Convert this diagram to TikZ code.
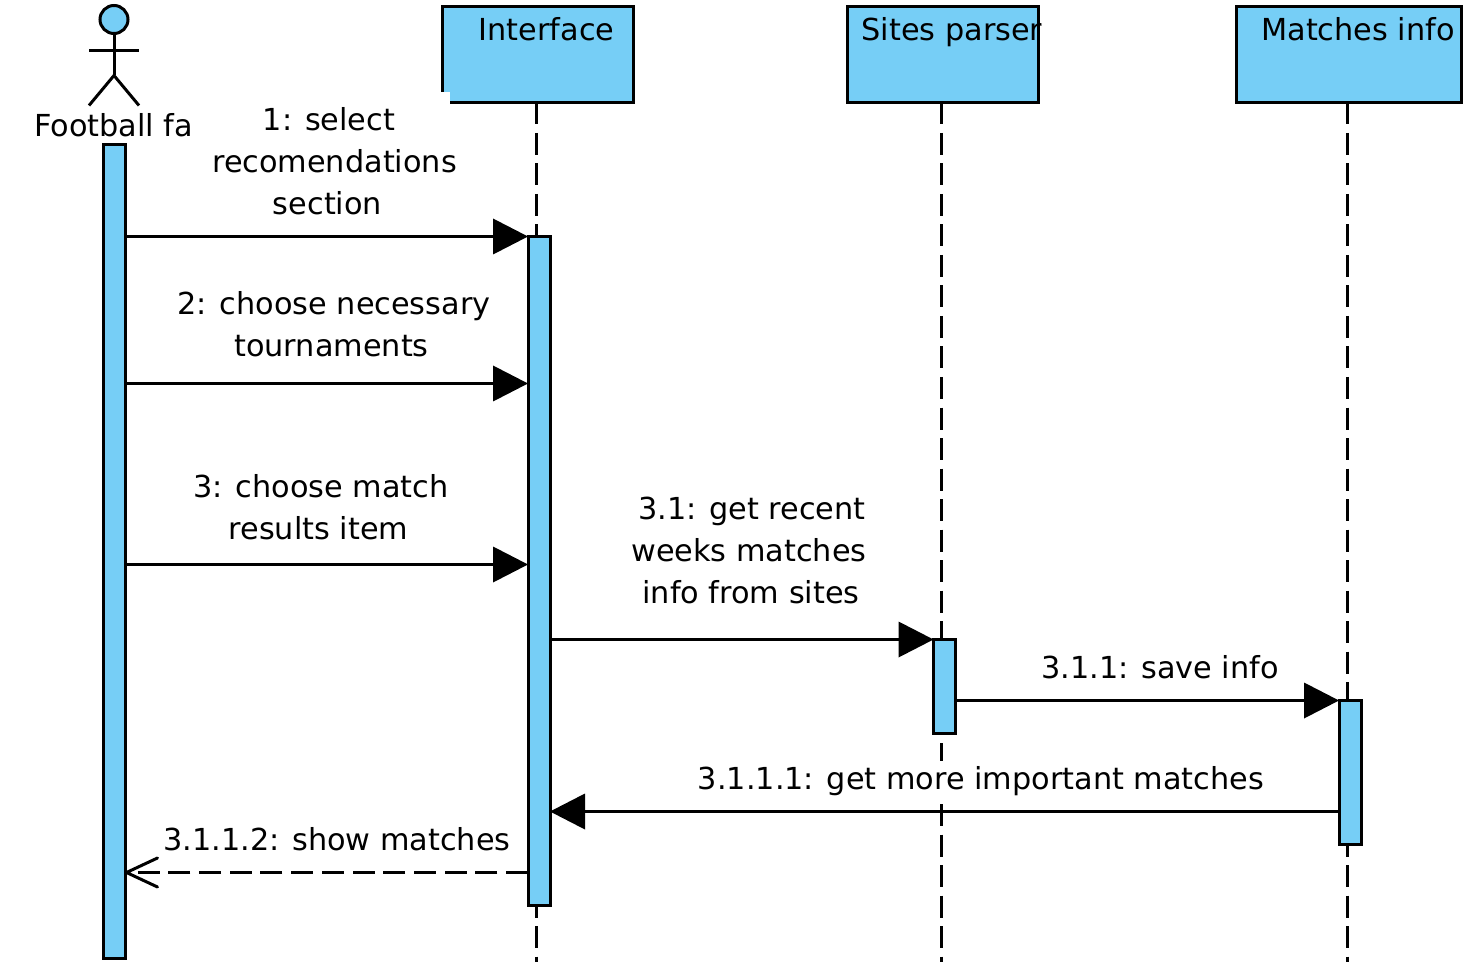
\documentclass[tikz,border=0pt]{standalone}
\usepackage{fontspec}
\setmainfont{DejaVu Sans}
\usetikzlibrary{arrows.meta}
\definecolor{umlblue}{HTML}{76CEF6}
\tikzset{
  umlbox/.style={draw=black,fill=umlblue,line width=3pt,inner sep=0pt,outer sep=0pt,rectangle},
  headbox/.style={umlbox,minimum height=96pt},
  bar/.style={umlbox,minimum width=22pt},
  txt/.style={inner sep=0pt,outer sep=0pt,anchor=base,text=black},
  lifeline/.style={draw=black,line width=3pt,dash pattern=on 22pt off 8.5pt},
  msg/.style={draw=black,line width=3pt,-{Triangle[length=35pt,width=36pt,line width=0pt]}},
  reply/.style={draw=black,line width=3pt,dash pattern=on 22pt off 8.7pt,-{Straight Barb[length=31pt,width=29pt,line width=3pt,round=false]}},
  limb/.style={draw=black,line width=3pt}
}
\begin{document}
\begin{tikzpicture}[x=1pt,y=-1pt,font=\fontsize{30.3}{37}\selectfont]
\useasboundingbox[fill=white] (0,0) rectangle (1475,973);
\begin{scope}[xshift=-0.5pt,yshift=-0.5pt]
% lifeline ends and message heights
\coordinate (ifend) at (536.5,961);
\coordinate (spend) at (941.5,961);
\coordinate (miend) at (1347.5,961);
\coordinate (m1) at (0,236);
\coordinate (m2) at (0,383);
\coordinate (m3) at (0,564);
\coordinate (m4) at (0,639);
\coordinate (m5) at (0,700);
\coordinate (m6) at (0,811);
\coordinate (m7) at (0,872);
% heads
\node[headbox,minimum width=191pt] (if) at (538,54) {};
\node[headbox,minimum width=191pt] (sp) at (943.5,54) {};
\node[headbox,minimum width=225pt] (mi) at (1349,54) {};
\node[fill=white,inner sep=0pt,minimum width=11pt,minimum height=13pt] (notch) at (444.5,98) {};
\node[txt] (iflabel) at (547,40) {Interface};
\node[txt] (splabel) at (952.5,40) {Sites parser};
\node[txt] (milabel) at (1358.5,40) {Matches info};
% lifelines
\draw[lifeline] (if.south -| ifend) -- (ifend);
\draw[lifeline] (sp.south -| spend) -- (spend);
\draw[lifeline] (mi.south -| miend) -- (miend);
% actor
\node[draw=black,fill=umlblue,line width=3pt,circle,minimum size=28pt,inner sep=0pt,outer sep=0pt] (head) at (114.5,19) {};
\coordinate (hip) at (114.5,75);
\coordinate (armL) at (89.5,50);
\coordinate (armR) at (139.5,50);
\coordinate (legL) at (89.5,105);
\coordinate (legR) at (139.5,105);
\draw[limb] (head.south) -- (hip);
\draw[limb] (armL) -- (armR);
\draw[limb] (legL) -- (hip) -- (legR);
\node[txt] (fanlabel) at (114,136) {Football fa};
% activation bars
\node[bar,minimum height=813pt] (fanbar) at (114.5,551) {};
\node[bar,minimum height=669pt] (ifbar) at (539.5,570.5) {};
\node[bar,minimum height=94pt] (spbar) at (945,686) {};
\node[bar,minimum height=144pt] (mibar) at (1350.5,772) {};
% messages
\draw[msg] (fanbar.east |- m1) -- (ifbar.west |- m1);
\draw[msg] (fanbar.east |- m2) -- (ifbar.west |- m2);
\draw[msg] (fanbar.east |- m3) -- (ifbar.west |- m3);
\draw[msg] (ifbar.east |- m4) -- (spbar.west |- m4);
\draw[msg] (spbar.east |- m5) -- (mibar.west |- m5);
\draw[msg] (mibar.west |- m6) -- (ifbar.east |- m6);
\draw[reply] (ifbar.west |- m7) -- (fanbar.east |- m7);
% message labels
\node[txt] (l1a) at (329.5,130.5) {1: select};
\node[txt] (l1b) at (335,172.5) {recomendations};
\node[txt] (l1c) at (328,214.5) {section};
\node[txt] (l2a) at (334.5,314) {2: choose necessary};
\node[txt] (l2b) at (332,356) {tournaments};
\node[txt] (l3a) at (321.5,497) {3: choose match};
\node[txt] (l3b) at (319,539) {results item};
\node[txt] (l4a) at (752.5,519) {3.1: get recent};
\node[txt] (l4b) at (749.5,561) {weeks matches};
\node[txt] (l4c) at (751.5,603) {info from sites};
\node[txt] (l5) at (1160.5,678) {3.1.1: save info};
\node[txt,fill=white,text height=29pt,text depth=8pt] (l6) at (981.5,789) {3.1.1.1: get more important matches};
\node[txt] (l7) at (337.5,850) {3.1.1.2: show matches};
\end{scope}
\end{tikzpicture}
\end{document}
